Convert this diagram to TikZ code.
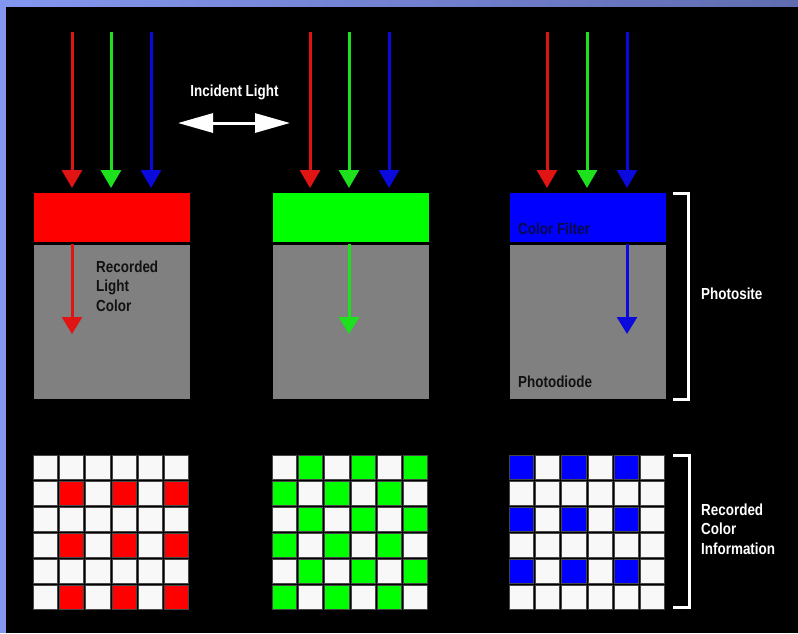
\documentclass[tikz,border=0pt]{standalone}
\usepackage{fontspec}
\setmainfont{Liberation Sans}[FakeStretch=0.84]
\usetikzlibrary{arrows.meta}

\definecolor{framel}{RGB}{132,151,240}
\definecolor{framer}{RGB}{96,108,176}
\definecolor{diodegrey}{RGB}{128,128,128}
\definecolor{rayred}{RGB}{225,20,20}
\definecolor{raygreen}{RGB}{30,225,30}
\definecolor{rayblue}{RGB}{10,10,220}
\definecolor{inkdark}{RGB}{17,17,17}
\definecolor{inknavy}{RGB}{10,10,70}
\definecolor{cellwhite}{RGB}{248,248,248}
\definecolor{celledge}{RGB}{70,70,70}

\tikzset{
  ray/.style={line width=3pt, -{Triangle[width=20pt,length=18pt]}, shorten >=4pt},
  innerray/.style={line width=3pt, -{Triangle[width=20pt,length=17pt]}},
  filterbox/.style={draw=black, line width=0.8pt, minimum width=157pt, minimum height=50pt,
    inner sep=0pt, anchor=north west},
  diodebox/.style={draw=black, line width=0.8pt, minimum width=157pt, minimum height=155pt,
    inner sep=0pt, anchor=north west, fill=diodegrey},
  lbl/.style={font=\fontsize{16}{19.5}\selectfont\bfseries, inner sep=0pt, align=left},
  bracketline/.style={draw=white, line width=3pt},
  cell/.style={draw=celledge, line width=0.6pt, minimum size=24.2pt, inner sep=0pt,
    anchor=north west, fill=cellwhite},
}

\begin{document}
\begin{tikzpicture}[x=1pt,y=-1pt]
  % background and frame
  \useasboundingbox (0,0) rectangle (798,633);
  \fill[black] (0,0) rectangle (798,633);
  \shade[left color=framel, right color=framer] (0,0) rectangle (798,6);
  \fill[framel] (0,0) rectangle (6,633);

  % photosites: filter on top of photodiode
  \node[filterbox, fill=red]  (f1) at (33,192) {};
  \node[filterbox, fill=green](f2) at (272,192) {};
  \node[filterbox, fill=blue] (f3) at (509,192) {};
  \node[diodebox] (p1) at (33,244) {};
  \node[diodebox] (p2) at (272,244) {};
  \node[diodebox] (p3) at (509,244) {};

  % incident rays
  \foreach \col/\xa/\xb/\xc in {1/72/111/151, 2/310/349/389, 3/547/587/627} {
    \coordinate (r\col) at (\xa,32);
    \coordinate (g\col) at (\xb,32);
    \coordinate (b\col) at (\xc,32);
    \draw[ray, rayred]   (r\col) -- (r\col |- f\col.north);
    \draw[ray, raygreen] (g\col) -- (g\col |- f\col.north);
    \draw[ray, rayblue]  (b\col) -- (b\col |- f\col.north);
  }

  % light passed to the photodiode
  \coordinate (e1) at (72,334);
  \coordinate (e2) at (349,334);
  \coordinate (e3) at (627,334);
  \draw[innerray, rayred]   (e1 |- p1.north) -- (e1);
  \draw[innerray, raygreen] (e2 |- p2.north) -- (e2);
  \draw[innerray, rayblue]  (e3 |- p3.north) -- (e3);

  % incident light label and double arrow
  \node[lbl, text=white] (inc) at (234.5,92) {Incident Light};
  \coordinate (il) at (178,123);
  \coordinate (ir) at (290,123);
  \draw[white, line width=3pt, {Triangle[width=19pt,length=35pt]}-{Triangle[width=19pt,length=35pt]}] (il) -- (ir);

  % labels inside the photosites
  \node[lbl, text=inkdark, anchor=west] (rec) at (96,286) {Recorded\\Light\\Color};
  \node[lbl, text=inknavy, anchor=west] (cf) at (518,229) {Color Filter};
  \node[lbl, text=inkdark, anchor=west] (pd) at (518,382) {Photodiode};

  % photosite bracket
  \coordinate (ba) at (673,193);
  \coordinate (bb) at (688,193);
  \coordinate (bc) at (688,399);
  \coordinate (bd) at (673,399);
  \draw[bracketline] (ba) -- (bb) -- (bc) -- (bd);
  \node[lbl, text=white, anchor=west] (ps) at (701,294) {Photosite};

  % recorded colour grids
  \foreach \r in {0,...,5} {
    \foreach \c in {0,...,5} {
      \pgfmathtruncatemacro{\isred}{(mod(\r,2)==1) && (mod(\c,2)==1)}
      \pgfmathtruncatemacro{\isgreen}{mod(\r+\c,2)==1}
      \pgfmathtruncatemacro{\isblue}{(mod(\r,2)==0) && (mod(\c,2)==0)}
      \ifnum\isred=1
        \node[cell, fill=red] (ra-\r-\c) at (33+26.2*\c, 455+26*\r) {};
      \else
        \node[cell] (ra-\r-\c) at (33+26.2*\c, 455+26*\r) {};
      \fi
      \ifnum\isgreen=1
        \node[cell, fill=green] (ga-\r-\c) at (272+26.2*\c, 455+26*\r) {};
      \else
        \node[cell] (ga-\r-\c) at (272+26.2*\c, 455+26*\r) {};
      \fi
      \ifnum\isblue=1
        \node[cell, fill=blue] (bl-\r-\c) at (509+26.2*\c, 455+26*\r) {};
      \else
        \node[cell] (bl-\r-\c) at (509+26.2*\c, 455+26*\r) {};
      \fi
    }
  }

  % recorded colour bracket
  \coordinate (ca) at (673,455);
  \coordinate (cb) at (689,455);
  \coordinate (cc) at (689,607);
  \coordinate (cd) at (673,607);
  \draw[bracketline] (ca) -- (cb) -- (cc) -- (cd);
  \node[lbl, text=white, anchor=west] (rci) at (701,529) {Recorded\\Color\\Information};
\end{tikzpicture}
\end{document}
